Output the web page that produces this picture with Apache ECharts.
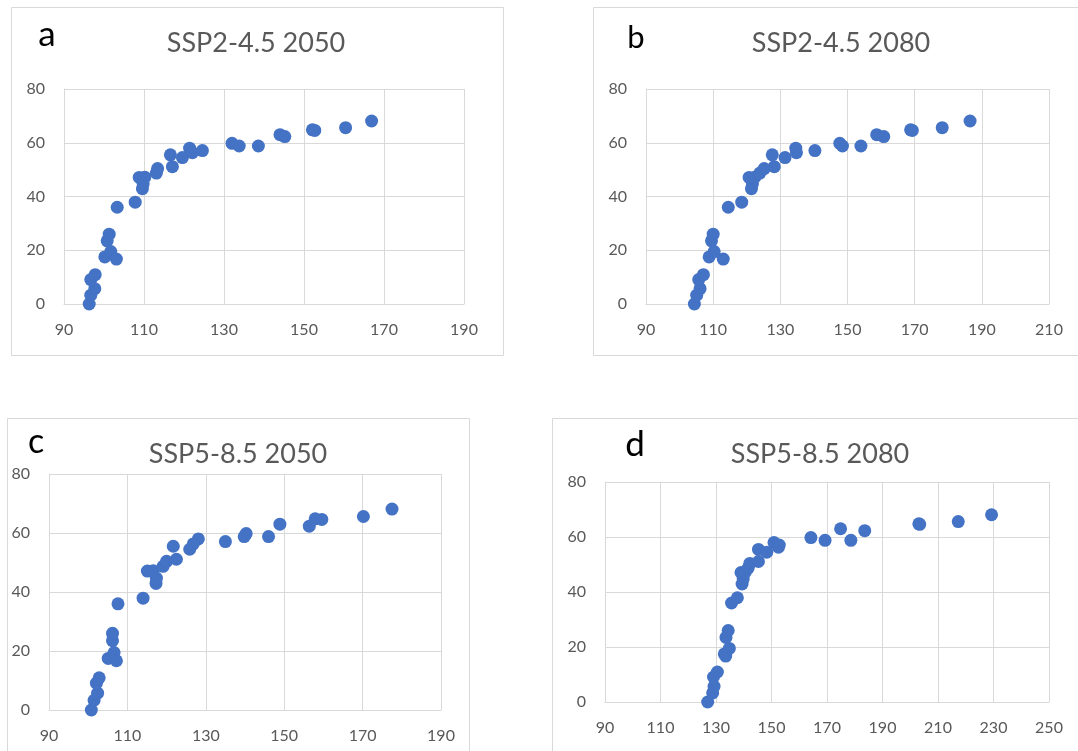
<!DOCTYPE html>
<html>
<head>
<meta charset="utf-8">
<script src="https://cdn.jsdelivr.net/npm/echarts@6/dist/echarts.min.js"></script>
<style>
  html, body { margin: 0; padding: 0; background: #ffffff; }
  #chart { width: 1078px; height: 751px; }
</style>
</head>
<body>
<div id="chart"></div>
<script>
// Shared y values (same sites in every panel)
const yValues = [0, 3.3, 5.7, 9.1, 10.9, 17.5, 19.5, 16.7, 23.5, 26, 36, 37.9, 42.9, 44.7, 47.1, 47.2, 48.7, 50.4, 51.1, 55.5, 54.5, 58, 56.3, 57.1, 59.8, 58.8, 58.8, 63, 62.3, 64.8, 64.6, 65.6, 68.1];
// x values per panel
const xA = [96.3, 96.7, 97.7, 96.7, 97.8, 100.2, 101.7, 103.1, 100.8, 101.3, 103.3, 107.8, 109.6, 109.8, 108.8, 110.2, 113.1, 113.4, 117.1, 116.6, 119.6, 121.4, 122.1, 124.6, 132, 133.8, 138.6, 144, 145.2, 152.1, 152.7, 160.4, 166.9];
const xB = [104.4, 105.1, 106.1, 105.7, 107.1, 108.8, 110.3, 113, 109.5, 110, 114.5, 118.5, 121.4, 121.7, 120.7, 122.4, 123.9, 125.2, 128.2, 127.6, 131.4, 134.6, 134.8, 140.3, 147.7, 148.5, 154, 158.7, 160.8, 168.8, 169.3, 178.2, 186.5];
const xC = [100.8, 101.5, 102.4, 102.1, 102.8, 105.1, 106.6, 107.2, 106.2, 106.2, 107.6, 114, 117.3, 117.4, 115.1, 116.6, 119.1, 120, 122.5, 121.7, 125.9, 128.1, 126.8, 135, 140.3, 139.8, 146, 148.9, 156.4, 157.9, 159.6, 170.2, 177.5];
const xD = [127, 128.8, 129.3, 129.1, 130.5, 133, 134.8, 133.5, 133.6, 134.4, 135.6, 137.7, 139.4, 139.8, 139, 140.5, 141.6, 142.2, 145.3, 145.3, 148.3, 150.9, 152.5, 152.8, 164.2, 169.3, 178.6, 174.9, 183.6, 203.1, 203.4, 217.3, 229.3];

const panelTitles = ['SSP2-4.5 2050', 'SSP2-4.5 2080', 'SSP5-8.5 2050', 'SSP5-8.5 2080'];
const panelLetters = ['a', 'b', 'c', 'd'];
const xMins = [90, 90, 90, 90];
const xMaxs = [190, 210, 190, 250];
const yTicks = [0, 20, 40, 60, 80];

const xSets = [xA, xB, xC, xD];

// layout (pixels)
const grids = [
  { left: 64, top: 89, width: 400, height: 215 },
  { left: 646, top: 89, width: 403, height: 215 },
  { left: 49, top: 474, width: 392, height: 236 },
  { left: 605, top: 482, width: 444, height: 220 }
];
const boxes = [
  { x: 11.5, y: 7.5, width: 492, height: 348 },
  { x: 593.5, y: 7.5, width: 500, height: 348 },
  { x: 7.5, y: 418.5, width: 462, height: 350 },
  { x: 552.5, y: 418.5, width: 540, height: 350 }
];
const titlePos = [
  { cx: 256, top: 30 },
  { cx: 841, top: 30 },
  { cx: 238, top: 441 },
  { cx: 820, top: 441 }
];
const letterPos = [
  { x: 47, y: 17, size: 35 },
  { x: 636, y: 22, size: 31 },
  { x: 36, y: 425, size: 34 },
  { x: 635, y: 427, size: 35 }
];

const FONT = 'Lato, "Open Sans", sans-serif';
const gridColor = '#d9d9d9';
const labelColor = '#595959';

const option = {
  backgroundColor: '#ffffff',
  animation: false,
  title: [],
  grid: grids.map(g => Object.assign({ containLabel: false }, g)),
  xAxis: [],
  yAxis: [],
  series: [],
  graphic: []
};

for (let i = 0; i < 4; i++) {
  option.title.push({
    text: panelTitles[i],
    left: titlePos[i].cx,
    top: titlePos[i].top,
    padding: 0,
    textAlign: 'center',
    textStyle: { fontFamily: FONT, fontSize: 27, fontWeight: 'normal', color: labelColor }
  });
  option.title.push({
    text: panelLetters[i],
    left: letterPos[i].x,
    top: letterPos[i].y,
    padding: 0,
    textAlign: 'center',
    textStyle: { fontFamily: FONT, fontSize: letterPos[i].size, fontWeight: 'normal', color: '#000000' }
  });
  option.xAxis.push({
    type: 'value', gridIndex: i, min: xMins[i], max: xMaxs[i], interval: 20,
    axisLine: { show: true, lineStyle: { color: gridColor, width: 1 } },
    axisTick: { show: false },
    splitLine: { show: true, lineStyle: { color: gridColor, width: 1 } },
    axisLabel: { color: labelColor, fontFamily: FONT, fontSize: 16, margin: 18, showMinLabel: true, showMaxLabel: true }
  });
  option.yAxis.push({
    type: 'value', gridIndex: i, min: yTicks[0], max: yTicks[yTicks.length - 1], interval: 20,
    axisLine: { show: true, lineStyle: { color: gridColor, width: 1 } },
    axisTick: { show: false },
    splitLine: { show: true, lineStyle: { color: gridColor, width: 1 } },
    axisLabel: { color: labelColor, fontFamily: FONT, fontSize: 16, margin: 19 }
  });
  option.series.push({
    type: 'scatter', xAxisIndex: i, yAxisIndex: i,
    symbol: 'circle', symbolSize: 13,
    itemStyle: { color: '#4472C4', opacity: 1 },
    data: xSets[i].map((x, k) => [x, yValues[k]])
  });
  option.graphic.push({
    type: 'rect', silent: true, z: -1,
    shape: boxes[i],
    style: { fill: 'none', stroke: gridColor, lineWidth: 1 }
  });
}

const chart = echarts.init(document.getElementById('chart'), null, { renderer: 'canvas' });
chart.setOption(option);
</script>
</body>
</html>
